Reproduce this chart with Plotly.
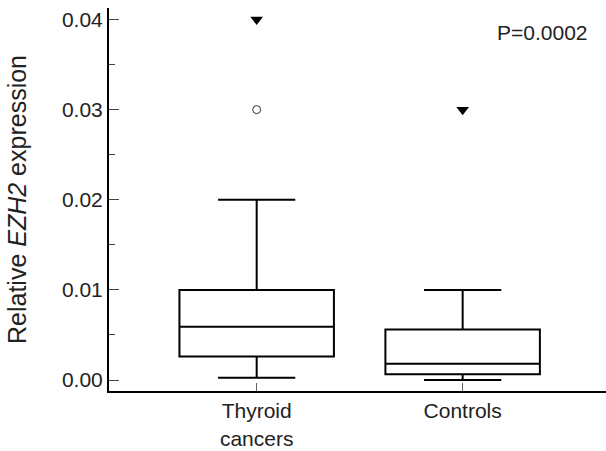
import plotly.graph_objects as go

categories = ["Thyroid<br>cancers", "Controls"]
q1 = [0.0026, 0.00063]
median = [0.0059, 0.0018]
q3 = [0.0100, 0.0056]
lower_whisker = [0.00026, 0.0]
upper_whisker = [0.0200, 0.0100]
# outliers
tri_x = [0, 1]
tri_y = [0.0400, 0.0300]
circ_x = [0]
circ_y = [0.0300]
p_text = "P=0.0002"

fig = go.Figure()
for i in range(len(categories)):
    fig.add_trace(go.Box(
        x=[i], q1=[q1[i]], median=[median[i]], q3=[q3[i]],
        lowerfence=[lower_whisker[i]], upperfence=[upper_whisker[i]],
        width=0.75, whiskerwidth=0.5,
        fillcolor="white", line=dict(color="black", width=2),
        boxpoints=False, showlegend=False, hoverinfo="skip",
    ))

fig.add_trace(go.Scatter(
    x=tri_x, y=tri_y, mode="markers",
    marker=dict(symbol="triangle-down", size=11, color="black"),
    showlegend=False))
fig.add_trace(go.Scatter(
    x=circ_x, y=circ_y, mode="markers",
    marker=dict(symbol="circle-open", size=8, color="#333", line=dict(width=1)),
    showlegend=False))

font = dict(family="Liberation Sans, Arial, sans-serif", size=21, color="#222")
fig.update_layout(
    width=606, height=451,
    margin=dict(l=109, r=0, t=8, b=60),
    paper_bgcolor="white", plot_bgcolor="white",
    font=font,
    xaxis=dict(
        range=[-0.717, 1.696], tickvals=[0, 1], ticktext=categories,
        showline=True, linecolor="black", linewidth=2,
        ticks="inside", ticklen=8, tickcolor="#666", tickwidth=1,
        showgrid=False, zeroline=False, automargin=False,
    ),
    yaxis=dict(
        range=[-0.00122, 0.04128], tickvals=[0, 0.01, 0.02, 0.03, 0.04],
        tickformat=".2f",
        showline=True, linecolor="black", linewidth=2,
        ticks="inside", ticklen=10, tickcolor="#444", tickwidth=1,
        minor=dict(dtick=0.005, ticks="inside", ticklen=6, tickcolor="#444", tickwidth=1),
        showgrid=False, zeroline=False, automargin=False,
        title=dict(text="Relative <i>EZH2</i> expression", standoff=28),
    ),
    annotations=[dict(
        text=p_text, xref="paper", yref="paper", x=0.968, y=0.935,
        xanchor="right", yanchor="middle", showarrow=False, font=font,
    )],
)

fig.write_html(
    "out.html",
    config={"displayModeBar": False},
    post_script="document.body.style.margin='0';document.body.style.padding='0';",
)
